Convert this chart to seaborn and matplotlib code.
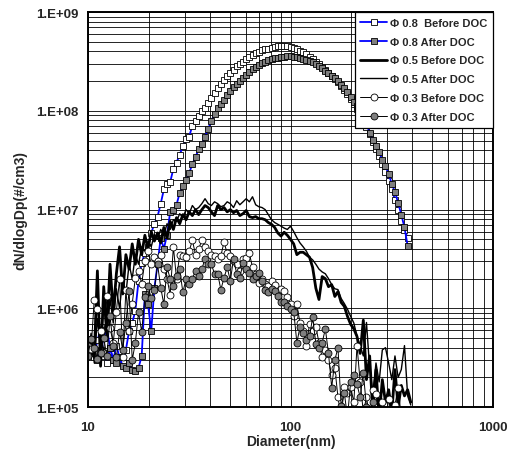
import matplotlib

matplotlib.use("Agg")

import matplotlib.pyplot as plt
import pandas as pd
import seaborn as sns
from matplotlib.ticker import FixedLocator, LogLocator, NullFormatter

# SMPS bin mid-points, 64 channels per decade (nm)
DIAMETER_NM = [
    10.00, 10.37, 10.75, 11.14, 11.55, 11.97, 12.41, 12.86, 13.34, 13.82,
    14.33, 14.86, 15.40, 15.97, 16.55, 17.15, 17.78, 18.43, 19.11, 19.81,
    20.54, 21.29, 22.07, 22.88, 23.71, 24.58, 25.48, 26.42, 27.38, 28.39,
    29.43, 30.51, 31.62, 32.78, 33.98, 35.22, 36.52, 37.86, 39.24, 40.68,
    42.17, 43.71, 45.32, 46.98, 48.70, 50.48, 52.33, 54.25, 56.23, 58.29,
    60.43, 62.65, 64.94, 67.32, 69.78, 72.34, 74.99, 77.74, 80.59, 83.54,
    86.60, 89.78, 93.06, 96.47, 100.0, 103.7, 107.5, 111.4, 115.5, 119.7,
    124.1, 128.6, 133.4, 138.2, 143.3, 148.6, 154.0, 159.7, 165.5, 171.5,
    177.8, 184.3, 191.1, 198.1, 205.4, 212.9, 220.7, 228.8, 237.1, 245.8,
    254.8, 264.2, 273.8, 283.9, 294.3, 305.1, 316.2, 327.8, 339.8, 352.2,
    365.2, 378.6, 392.4,
]

PHI08_BEFORE = [
    3.5e5, 4.2e5, 3.2e5, 4.8e5, 6.0e5, 3.3e5, 2.8e5, 4.0e5, 3.0e5, 4.2e5,
    3.2e5, 2.8e5, 3.8e5, 5.9e5, 7.1e5, 9.5e5, 1.9e6, 2.9e6, 3.6e6, 4.2e6,
    5.8e6, 7.2e6, 8.5e6, 1.15e7, 1.6e7, 1.8e7, 1.9e7, 2.6e7, 3.0e7, 3.6e7,
    4.4e7, 5.2e7, 5.5e7, 7.1e7, 7.9e7, 8.9e7, 1.0e8, 1.07e8, 1.2e8, 1.35e8,
    1.5e8, 1.7e8, 1.86e8, 2.04e8, 2.24e8, 2.4e8, 2.57e8, 2.82e8, 2.95e8, 3.16e8,
    3.39e8, 3.55e8, 3.72e8, 3.85e8, 3.98e8, 4.12e8, 4.22e8, 4.27e8, 4.37e8, 4.47e8,
    4.52e8, 4.57e8, 4.57e8, 4.52e8, 4.47e8, 4.37e8, 4.22e8, 4.07e8, 3.94e8, 3.76e8,
    3.55e8, 3.39e8, 3.16e8, 2.95e8, 2.75e8, 2.57e8, 2.4e8, 2.24e8, 2.09e8, 1.95e8,
    1.78e8, 1.62e8, 1.48e8, 1.32e8, 1.17e8, 1.05e8, 9.3e7, 8.1e7, 6.9e7, 5.8e7,
    4.8e7, 4.1e7, 3.5e7, 2.9e7, 2.4e7, 1.95e7, 1.6e7, 1.26e7, 9.8e6, 7.6e6,
    6.2e6, 5.2e6,
]

PHI08_AFTER = [
    4.2e5, 4.9e5, 3.5e5, 3.0e5, 3.8e5, 5.0e5, 6.3e5, 4.0e5, 3.0e5, 2.8e5,
    3.2e5, 2.6e5, 2.5e5, 2.8e5, 2.4e5, 2.3e5, 2.5e5, 3.3e5, 1.4e6, 1.1e6,
    5.9e5, 1.6e6, 2.8e6, 5.2e6, 4.0e6, 5.6e6, 9.5e6, 1.0e7, 1.12e7, 1.48e7,
    1.74e7, 2.0e7, 2.34e7, 2.9e7, 3.4e7, 4.1e7, 4.6e7, 5.5e7, 6.6e7, 7.9e7,
    9.3e7, 1.07e8, 1.17e8, 1.29e8, 1.45e8, 1.58e8, 1.74e8, 1.86e8, 2.0e8, 2.14e8,
    2.29e8, 2.45e8, 2.63e8, 2.75e8, 2.88e8, 3.02e8, 3.16e8, 3.27e8, 3.35e8, 3.43e8,
    3.47e8, 3.51e8, 3.55e8, 3.59e8, 3.59e8, 3.55e8, 3.51e8, 3.47e8, 3.39e8, 3.27e8,
    3.2e8, 3.09e8, 2.99e8, 2.85e8, 2.69e8, 2.54e8, 2.4e8, 2.26e8, 2.14e8, 2.0e8,
    1.84e8, 1.7e8, 1.55e8, 1.38e8, 1.23e8, 1.12e8, 1.0e8, 8.9e7, 7.4e7, 6.0e7,
    5.1e7, 4.4e7, 3.8e7, 3.2e7, 2.75e7, 2.3e7, 1.82e7, 1.51e7, 1.17e7, 8.9e6,
    6.6e6, 4.3e6,
]

PHI05_BEFORE = [
    4.5e5, 4.0e5, 3.2e5, 2.4e6, 2.6e5, 1.66e6, 5.6e5, 2.8e6, 8.9e5, 2.24e6,
    4.2e6, 1.4e6, 3.5e6, 2.5e6, 4.5e6, 2.8e6, 5.0e6, 3.5e6, 5.5e6, 4.0e6,
    6.0e6, 4.8e6, 5.8e6, 4.6e6, 6.6e6, 5.2e6, 7.6e6, 6.3e6, 8.3e6, 7.2e6,
    8.9e6, 7.9e6, 9.5e6, 8.7e6, 1.0e7, 8.9e6, 1.0e7, 1.1e7, 1.05e7, 9.5e6,
    8.7e6, 1.1e7, 1.0e7, 1.05e7, 9.5e6, 1.0e7, 9.3e6, 9.8e6, 8.7e6, 9.1e6,
    9.8e6, 8.5e6, 8.3e6, 8.5e6, 8.1e6, 8.1e6, 7.9e6, 7.4e6, 7.1e6, 6.6e6,
    5.8e6, 5.4e6, 5.9e6, 5.5e6, 5.0e6, 4.5e6, 3.5e6, 3.7e6, 3.7e6, 3.5e6,
    3.3e6, 2.6e6, 1.6e6, 1.23e6, 2.1e6, 2.0e6, 1.66e6, 1.74e6, 1.32e6, 1.48e6,
    1.15e6, 1.05e6, 8.3e5, 6.9e5, 6.2e5, 5.2e5, 3.5e5, 7.6e5, 1.9e5, 3.3e5,
    8.9e4, 2.4e5, 7.9e4, 1.9e5, 1.12e5, 1.5e5, 8.9e4, 2.4e5, 1.0e5, 1.66e5,
    1.3e5, 1.5e5, 1.12e5,
]

PHI05_AFTER = [
    3.5e5, 5.6e5, 2.8e5, 7.9e5, 4.0e5, 1.12e6, 5.0e5, 1.26e6, 7.1e5, 1.58e6,
    1.0e6, 2.0e6, 1.41e6, 2.8e6, 2.0e6, 3.5e6, 2.8e6, 4.2e6, 3.8e6, 4.8e6,
    4.2e6, 5.6e6, 5.0e6, 6.3e6, 5.5e6, 7.2e6, 6.3e6, 7.9e6, 7.6e6, 9.1e6,
    8.3e6, 1.0e7, 9.1e6, 1.1e7, 1.0e7, 1.05e7, 1.15e7, 1.29e7, 1.15e7, 1.1e7,
    1.2e7, 1.15e7, 1.07e7, 1.1e7, 1.2e7, 1.15e7, 1.05e7, 1.23e7, 1.12e7, 1.2e7,
    1.29e7, 1.2e7, 1.35e7, 1.12e7, 1.07e7, 1.05e7, 1.0e7, 8.9e6, 7.9e6, 7.4e6,
    7.1e6, 6.8e6, 6.5e6, 6.3e6, 6.8e6, 6.0e6, 5.2e6, 4.6e6, 4.2e6, 3.8e6,
    3.3e6, 3.1e6, 2.8e6, 2.5e6, 2.34e6, 2.24e6, 2.0e6, 1.74e6, 1.58e6, 1.55e6,
    1.26e6, 1.12e6, 9.8e5, 8.3e5, 7.1e5, 5.2e5, 4.2e5, 3.3e5, 7.2e5, 2.5e5,
    1.4e5, 2.8e5, 1.8e5, 3.8e5, 4.0e5, 2.8e5, 1.9e5, 3.3e5, 2.0e5, 2.4e5,
    4.2e5, 1.3e5, 1.05e5,
]

PHI03_BEFORE = [
    4.2e5, 3.9e5, 1.23e6, 9.8e5, 5.9e5, 3.5e5, 1.35e6, 6.3e5, 4.5e5, 9.3e5,
    2.0e6, 3.2e5, 1.55e6, 5.9e5, 1.12e6, 2.04e6, 2.4e6, 1.78e6, 3.0e6, 3.8e6,
    2.8e6, 3.3e6, 3.0e6, 3.5e6, 2.5e6, 2.0e6, 1.38e6, 4.2e6, 2.0e6, 3.5e6,
    3.4e6, 3.3e6, 3.8e6, 4.9e6, 3.5e6, 4.0e6, 4.9e6, 4.2e6, 3.8e6, 3.5e6,
    3.4e6, 3.2e6, 3.4e6, 4.7e6, 3.6e6, 3.4e6, 3.0e6, 2.8e6, 2.4e6, 3.2e6,
    3.24e6, 3.6e6, 2.6e6, 2.24e6, 1.82e6, 2.0e6, 1.78e6, 1.7e6, 1.9e6, 1.74e6,
    1.5e6, 1.58e6, 1.5e6, 1.29e6, 1.1e6, 8.3e5, 1.1e6, 7.1e5, 5.9e5, 4.2e5,
    6.9e5, 5.9e5, 6.5e5, 4.5e5, 3.2e5, 3.8e5, 3.0e5, 2.1e5, 2.5e5, 1.26e5,
    7.9e4, 1.6e5, 1.4e5, 1.6e5, 1.12e5, 4.2e5, 1.8e5, 8.9e4, 1.26e5, 7.9e4,
    1.5e5, 1.35e5, 7.9e4, 1.12e5, 7.1e4, 1.2e5, 7.9e4, 1.05e5, 1.58e5, 7.9e4,
]

PHI03_AFTER = [
    3.3e5, 4.9e5, 4.0e5, 3.1e5, 3.5e5, 5.0e5, 3.3e5, 8.3e5, 4.2e5, 3.2e5,
    5.8e5, 3.8e5, 7.1e5, 1.5e6, 3.0e5, 4.5e5, 9.1e5, 5.8e5, 1.29e6, 1.7e6,
    1.26e6, 1.55e6, 2.8e6, 1.62e6, 1.1e6, 2.6e6, 2.0e6, 1.7e6, 2.14e6, 2.5e6,
    1.45e6, 2.0e6, 1.78e6, 2.0e6, 2.4e6, 2.14e6, 2.5e6, 3.2e6, 2.8e6, 2.8e6,
    2.24e6, 2.24e6, 1.55e6, 2.04e6, 2.6e6, 1.9e6, 3.2e6, 2.24e6, 2.04e6, 2.9e6,
    2.5e6, 2.3e6, 2.0e6, 2.14e6, 2.3e6, 1.9e6, 1.55e6, 1.45e6, 1.58e6, 1.5e6,
    1.35e6, 1.17e6, 1.15e6, 1.05e6, 9.8e5, 9.3e5, 4.5e5, 6.5e5, 5.6e5, 4.8e5,
    5.2e5, 8.1e5, 4.4e5, 4.0e5, 4.5e5, 6.2e5, 3.5e5, 1.58e5, 3.0e5, 4.0e5,
    1.02e5, 1.4e5, 7.9e4, 1.8e5, 2.1e5, 1.7e5, 1.26e5, 2.24e5, 1.0e5, 7.1e4,
    1.12e5, 7.9e4,
]

LABELS = [
    "\u03a6 0.8  Before DOC",
    "\u03a6 0.8 After DOC",
    "\u03a6 0.5 Before DOC",
    "\u03a6 0.5 After DOC",
    "\u03a6 0.3 Before DOC",
    "\u03a6 0.3 After DOC",
]
VALUES = [PHI08_BEFORE, PHI08_AFTER, PHI05_BEFORE, PHI05_AFTER, PHI03_BEFORE, PHI03_AFTER]

STYLES = [
    dict(color="#0000ff", lw=1.3, marker="s", ms=4.8, mfc="white", mec="black", mew=0.6),
    dict(color="#0000ff", lw=1.3, marker="s", ms=4.8, mfc="#7f7f7f", mec="black", mew=0.6),
    dict(color="black", lw=2.0, marker=None),
    dict(color="black", lw=1.0, marker=None),
    dict(color="black", lw=0.7, marker="o", ms=5.0, mfc="white", mec="black", mew=0.6),
    dict(color="black", lw=0.7, marker="o", ms=5.0, mfc="#7f7f7f", mec="black", mew=0.6),
]

Y_TICKS = [1e5, 1e6, 1e7, 1e8, 1e9]
Y_TICK_LABELS = ["1.E+05", "1.E+06", "1.E+07", "1.E+08", "1.E+09"]
X_TICKS = [10, 100, 1000]
X_TICK_LABELS = ["10", "100", "1000"]

sns.set_style("white")
plt.rcParams["font.family"] = ["Liberation Sans", "DejaVu Sans"]
plt.rcParams["font.weight"] = "bold"

fig = plt.figure(figsize=(5.11, 4.52), dpi=100)
ax = fig.add_axes([0.172, 0.097, 0.793, 0.874])

for label, vals, style in zip(LABELS, VALUES, STYLES):
    df = pd.DataFrame({"diameter": DIAMETER_NM[: len(vals)], "conc": vals})
    sns.lineplot(data=df, x="diameter", y="conc", ax=ax, estimator=None, sort=False,
                 label=label, **style)

ax.set_xscale("log")
ax.set_yscale("log")
ax.set_xlim(10, 1000)
ax.set_ylim(1e5, 1e9)

ax.xaxis.set_major_locator(FixedLocator(X_TICKS))
ax.xaxis.set_minor_locator(LogLocator(base=10, subs=range(2, 10)))
ax.yaxis.set_major_locator(FixedLocator(Y_TICKS))
ax.yaxis.set_minor_locator(LogLocator(base=10, subs=range(2, 10)))
ax.xaxis.set_minor_formatter(NullFormatter())
ax.yaxis.set_minor_formatter(NullFormatter())
ax.set_xticklabels(X_TICK_LABELS, fontsize=9.5, fontweight="bold")
ax.set_yticklabels(Y_TICK_LABELS, fontsize=9.5, fontweight="bold")
ax.tick_params(axis="both", which="both", length=0)
ax.tick_params(axis="x", pad=10)
ax.tick_params(axis="y", pad=7)

ax.grid(True, which="both", color="black", lw=0.6)
ax.set_axisbelow(True)
for spine in ax.spines.values():
    spine.set_color("black")
    spine.set_linewidth(1.4)

ax.set_xlabel("Diameter(nm)", fontsize=10, fontweight="bold", labelpad=1)
ax.set_ylabel("dN/dlogDp(#/cm3)", fontsize=10, fontweight="bold", labelpad=6)

leg = ax.legend(loc="upper right", borderaxespad=0, fancybox=False, framealpha=1,
                edgecolor="black", prop={"size": 8, "weight": "bold"},
                handlelength=2.4, handletextpad=0.3, labelspacing=0.8, borderpad=0.5)
leg.get_frame().set_linewidth(0.9)

fig.savefig("out.png", dpi=100)
